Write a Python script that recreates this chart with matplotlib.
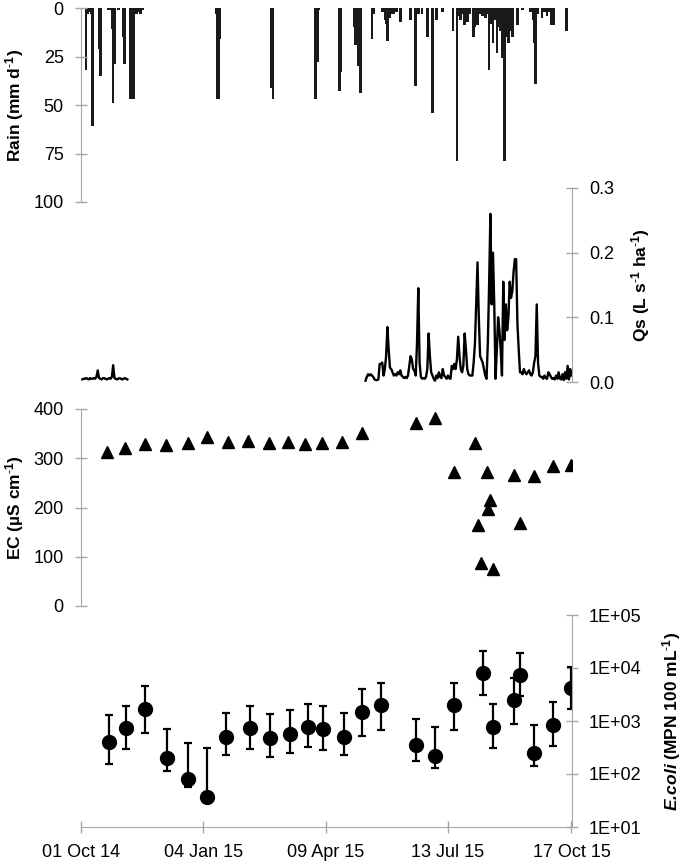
import numpy as np
import pandas as pd
import matplotlib
matplotlib.use('Agg')
import matplotlib.pyplot as plt
from matplotlib.ticker import FixedLocator, FixedFormatter

plt.rcParams['font.family'] = ['Liberation Sans', 'DejaVu Sans']
plt.rcParams['mathtext.fontset'] = 'custom'
plt.rcParams['mathtext.rm'] = 'Liberation Sans'
plt.rcParams['mathtext.it'] = 'Liberation Sans:italic'
plt.rcParams['mathtext.bf'] = 'Liberation Sans:bold'
plt.rcParams['mathtext.bfit'] = 'Liberation Sans:italic:bold'

# daily rainfall (mm/d)
rain_dates = ['2014-10-05', '2014-10-06', '2014-10-07', '2014-10-09', '2014-10-10', '2014-10-15',
              '2014-10-16', '2014-10-22', '2014-10-24', '2014-10-25', '2014-10-26', '2014-10-27',
              '2014-10-30', '2014-11-03', '2014-11-04', '2014-11-08', '2014-11-09', '2014-11-10',
              '2014-11-11', '2014-11-13', '2014-11-15', '2014-11-16', '2014-11-18',
              '2015-01-14', '2015-01-15', '2015-01-16', '2015-01-17',
              '2015-02-26', '2015-02-27', '2015-04-01', '2015-04-03', '2015-04-04',
              '2015-04-20', '2015-04-21', '2015-05-01', '2015-05-02', '2015-05-04', '2015-05-06',
              '2015-05-15', '2015-05-16', '2015-05-23', '2015-05-25', '2015-05-26', '2015-05-27',
              '2015-05-29', '2015-05-30', '2015-06-01', '2015-06-03', '2015-06-06', '2015-06-14',
              '2015-06-18', '2015-06-20', '2015-06-23', '2015-06-27', '2015-07-01', '2015-07-04',
              '2015-07-09', '2015-07-17', '2015-07-20', '2015-07-21', '2015-07-23', '2015-07-24',
              '2015-07-26', '2015-07-28', '2015-07-30', '2015-08-02', '2015-08-03', '2015-08-05',
              '2015-08-07', '2015-08-09', '2015-08-11', '2015-08-13', '2015-08-14', '2015-08-16',
              '2015-08-17', '2015-08-19', '2015-08-20', '2015-08-21', '2015-08-23', '2015-08-24',
              '2015-08-26', '2015-08-27', '2015-08-29', '2015-08-31', '2015-09-01', '2015-09-05',
              '2015-09-09', '2015-09-15', '2015-09-17', '2015-09-18', '2015-09-19', '2015-09-21',
              '2015-09-24', '2015-09-26', '2015-09-28', '2015-09-29', '2015-10-01', '2015-10-03',
              '2015-10-13']
rain_mm = [32, 3, 2, 3, 61, 21,
           35, 1, 1, 11, 49, 29,
           1, 15, 29, 47, 47, 12,
           47, 3, 2, 3, 1,
           3, 47, 47, 16,
           41, 47, 47, 28, 1,
           43, 33, 10, 19, 30, 44,
           16, 3, 2, 6, 8, 17,
           5, 3, 3, 2, 7, 6,
           40, 3, 3, 15, 54, 6,
           2, 12, 79, 4, 6, 3,
           9, 7, 3, 15, 10, 9,
           3, 4, 5, 3, 32, 8,
           18, 6, 23, 10, 12, 26,
           79, 15, 18, 12, 15, 9,
           1, 2, 6, 18, 39, 3,
           5, 2, 4, 2, 9, 9,
           12]

# runoff Qs (L/s/ha), daily, two logging periods
qs1_start = '2014-10-02'
qs1 = [0.004, 0.005, 0.005, 0.006, 0.005, 0.004, 0.006, 0.005, 0.005, 0.006,
       0.005, 0.008, 0.018, 0.006, 0.005, 0.004, 0.006, 0.006, 0.005, 0.004,
       0.005, 0.006, 0.005, 0.008, 0.026, 0.006, 0.005, 0.004, 0.005, 0.006,
       0.005, 0.004, 0.005, 0.006, 0.005, 0.004]
qs2_start = '2015-05-10'
qs2 = [0.002, 0.008, 0.012, 0.010, 0.012, 0.010, 0.008, 0.004, 0.003, 0.003,
       0.004, 0.028, 0.028, 0.030, 0.010, 0.020, 0.040, 0.085, 0.050, 0.022,
       0.020, 0.015, 0.010, 0.012, 0.010, 0.015, 0.012, 0.018, 0.010, 0.008,
       0.006, 0.008, 0.006, 0.010, 0.025, 0.040, 0.035, 0.020, 0.018, 0.010,
       0.060, 0.145, 0.030, 0.008, 0.005, 0.006, 0.005, 0.008, 0.020, 0.075,
       0.040, 0.015, 0.010, 0.005, 0.002, 0.010, 0.006, 0.015, 0.008, 0.006,
       0.020, 0.010, 0.008, 0.005, 0.010, 0.006,
       0.005, 0.025, 0.020, 0.028, 0.020, 0.035, 0.070, 0.040, 0.020, 0.015,
       0.025, 0.075, 0.050, 0.020, 0.012,
       0.010, 0.010, 0.010,
       0.030, 0.060, 0.120, 0.185, 0.100, 0.040, 0.035,
       0.030, 0.020, 0.010, 0.005, 0.060, 0.150, 0.260, 0.120, 0.200, 0.120,
       0.005, 0.050, 0.100, 0.080, 0.050, 0.010, 0.155, 0.065, 0.120, 0.080,
       0.100, 0.155, 0.130, 0.140, 0.170, 0.190, 0.190, 0.090, 0.050, 0.015,
       0.015, 0.012, 0.020, 0.015, 0.012, 0.015, 0.018, 0.012, 0.010, 0.015,
       0.030, 0.040, 0.120, 0.030, 0.010, 0.008, 0.008, 0.005, 0.010, 0.006,
       0.005, 0.015, 0.012, 0.008, 0.005, 0.006, 0.004, 0.010, 0.005, 0.015,
       0.005, 0.004, 0.012, 0.003, 0.015, 0.005, 0.025, 0.004, 0.020, 0.010]

# electrical conductivity (uS/cm)
ec_dates = ['2014-10-21', '2014-11-04', '2014-11-20', '2014-12-06', '2014-12-23', '2015-01-07',
            '2015-01-23', '2015-02-08', '2015-02-24', '2015-03-11', '2015-03-24', '2015-04-06',
            '2015-04-22', '2015-05-07', '2015-06-18', '2015-07-03', '2015-07-18', '2015-08-03',
            '2015-08-05', '2015-08-08', '2015-08-12', '2015-08-13', '2015-08-15', '2015-08-17',
            '2015-09-02', '2015-09-07', '2015-09-18', '2015-10-03', '2015-10-17']
ec = [313, 320, 328, 326, 330, 343,
      332, 335, 330, 332, 328, 330,
      333, 351, 371, 381, 272, 331,
      164, 87, 272, 197, 215, 75,
      266, 168, 264, 284, 286]

# E. coli (MPN/100 mL) with lower / upper bounds
ecoli_dates = ['2014-10-23', '2014-11-05', '2014-11-20', '2014-12-07', '2014-12-23', '2015-01-07',
               '2015-01-22', '2015-02-09', '2015-02-25', '2015-03-12', '2015-03-26', '2015-04-07',
               '2015-04-23', '2015-05-07', '2015-05-22', '2015-06-18', '2015-07-03', '2015-07-18',
               '2015-08-09', '2015-08-17', '2015-09-02', '2015-09-07', '2015-09-18', '2015-10-03',
               '2015-10-17']
ecoli = [400, 740, 1700, 200, 80, 37,
         500, 740, 480, 570, 770, 700,
         500, 1480, 2000, 350, 220, 2000,
         8100, 770, 2500, 7400, 250, 840,
         4200]
ecoli_lo = [155, 296, 594, 114, 57, 37,
            228, 296, 209, 250, 324, 283,
            228, 521, 676, 176, 130, 676,
            3090, 310, 880, 2970, 141, 337,
            1690]
ecoli_hi = [1300, 1920, 4570, 706, 385, 310,
            1420, 1920, 1350, 1620, 2090, 1920,
            1420, 4000, 5210, 1090, 770, 5210,
            20900, 2090, 6470, 19200, 840, 2290,
            10400]

tick_dates = ['2014-10-01', '2015-01-04', '2015-04-09', '2015-07-13', '2015-10-17']
tick_labels = ['01 Oct 14', '04 Jan 15', '09 Apr 15', '13 Jul 15', '17 Oct 15']

gray = '#a6a6a6'
xmin = pd.Timestamp('2014-10-01')
xmax = pd.Timestamp('2015-10-17')

W, H = 685, 868
fig = plt.figure(figsize=(W / 100, H / 100), dpi=100)


def panel(bottom, height):
    ax = fig.add_axes([81 / W, bottom / H, 490.5 / W, height / H])
    ax.patch.set_alpha(0)
    ax.set_xlim(xmin, xmax)
    return ax


def style(ax, side):
    for s in ax.spines.values():
        s.set_visible(False)
    ax.spines[side].set_visible(True)
    ax.spines[side].set_color(gray)
    if side == 'right':
        ax.yaxis.tick_right()
        ax.yaxis.set_label_position('right')
    ax.tick_params(axis='y', direction='inout', length=9, width=1, color=gray,
                   labelsize=13, pad=8)
    ax.tick_params(axis='x', bottom=False, labelbottom=False)


sup = r'$^{\mathbf{\text{-}1}}$'

# rain
ax1 = panel(666, 194)
ax1.bar(pd.to_datetime(rain_dates), rain_mm, width=2.0, color='#1a1a1a', linewidth=0)
ax1.set_ylim(100, 0)
ax1.set_yticks([0, 25, 50, 75, 100])
style(ax1, 'left')
ax1.set_ylabel('Rain (mm d' + sup + ')', fontsize=12.5, fontweight='bold')
ax1.yaxis.set_label_coords(-0.112, 0.5)

# runoff
ax2 = panel(486, 194)
ax2.plot(pd.date_range(qs1_start, periods=len(qs1)), qs1, color='black', lw=1.7)
ax2.plot(pd.date_range(qs2_start, periods=len(qs2)), qs2, color='black', lw=1.7)
ax2.set_ylim(0, 0.3)
ax2.set_yticks([0, 0.1, 0.2, 0.3])
ax2.set_yticklabels(['0.0', '0.1', '0.2', '0.3'])
style(ax2, 'right')
ax2.set_ylabel('Qs (L s' + sup + ' ha' + sup + ')', fontsize=12.5, fontweight='bold')
ax2.yaxis.set_label_coords(1.117, 0.5)

# EC
ax3 = panel(262, 197)
ax3.plot(pd.to_datetime(ec_dates), ec, '^', color='black', ms=8.5)
ax3.set_ylim(0, 400)
ax3.set_yticks([0, 100, 200, 300, 400])
style(ax3, 'left')
ax3.set_ylabel('EC (µS cm' + sup + ')', fontsize=12.5, fontweight='bold')
ax3.yaxis.set_label_coords(-0.112, 0.5)

# E. coli
ax4 = panel(41, 212)
ecoli_arr = np.array(ecoli, dtype=float)
yerr = [ecoli_arr - np.array(ecoli_lo), np.array(ecoli_hi) - ecoli_arr]
ax4.errorbar(pd.to_datetime(ecoli_dates), ecoli, yerr=yerr, fmt='o', color='black',
             ms=10, capsize=3, elinewidth=1.6, capthick=1.6)
ax4.set_yscale('log')
ax4.set_ylim(10, 1e5)
ax4.yaxis.set_major_locator(FixedLocator([1e1, 1e2, 1e3, 1e4, 1e5]))
ax4.yaxis.set_major_formatter(FixedFormatter(['1E+01', '1E+02', '1E+03', '1E+04', '1E+05']))
ax4.yaxis.set_minor_locator(FixedLocator([]))
style(ax4, 'right')
ax4.spines['bottom'].set_visible(True)
ax4.spines['bottom'].set_color(gray)
ax4.tick_params(axis='x', bottom=True, labelbottom=True, direction='inout', length=9,
                width=1, color=gray, labelsize=13, pad=8)
ax4.set_xticks(pd.to_datetime(tick_dates))
ax4.set_xticklabels(tick_labels)
ax4.set_xlim(xmin, xmax)
ax4.set_ylabel(r'$\mathbfit{E.\!coli}$ (MPN 100 mL' + sup + ')', fontsize=12.5, fontweight='bold')
ax4.yaxis.set_label_coords(1.180, 0.5)

fig.savefig('out.png', dpi=100)
